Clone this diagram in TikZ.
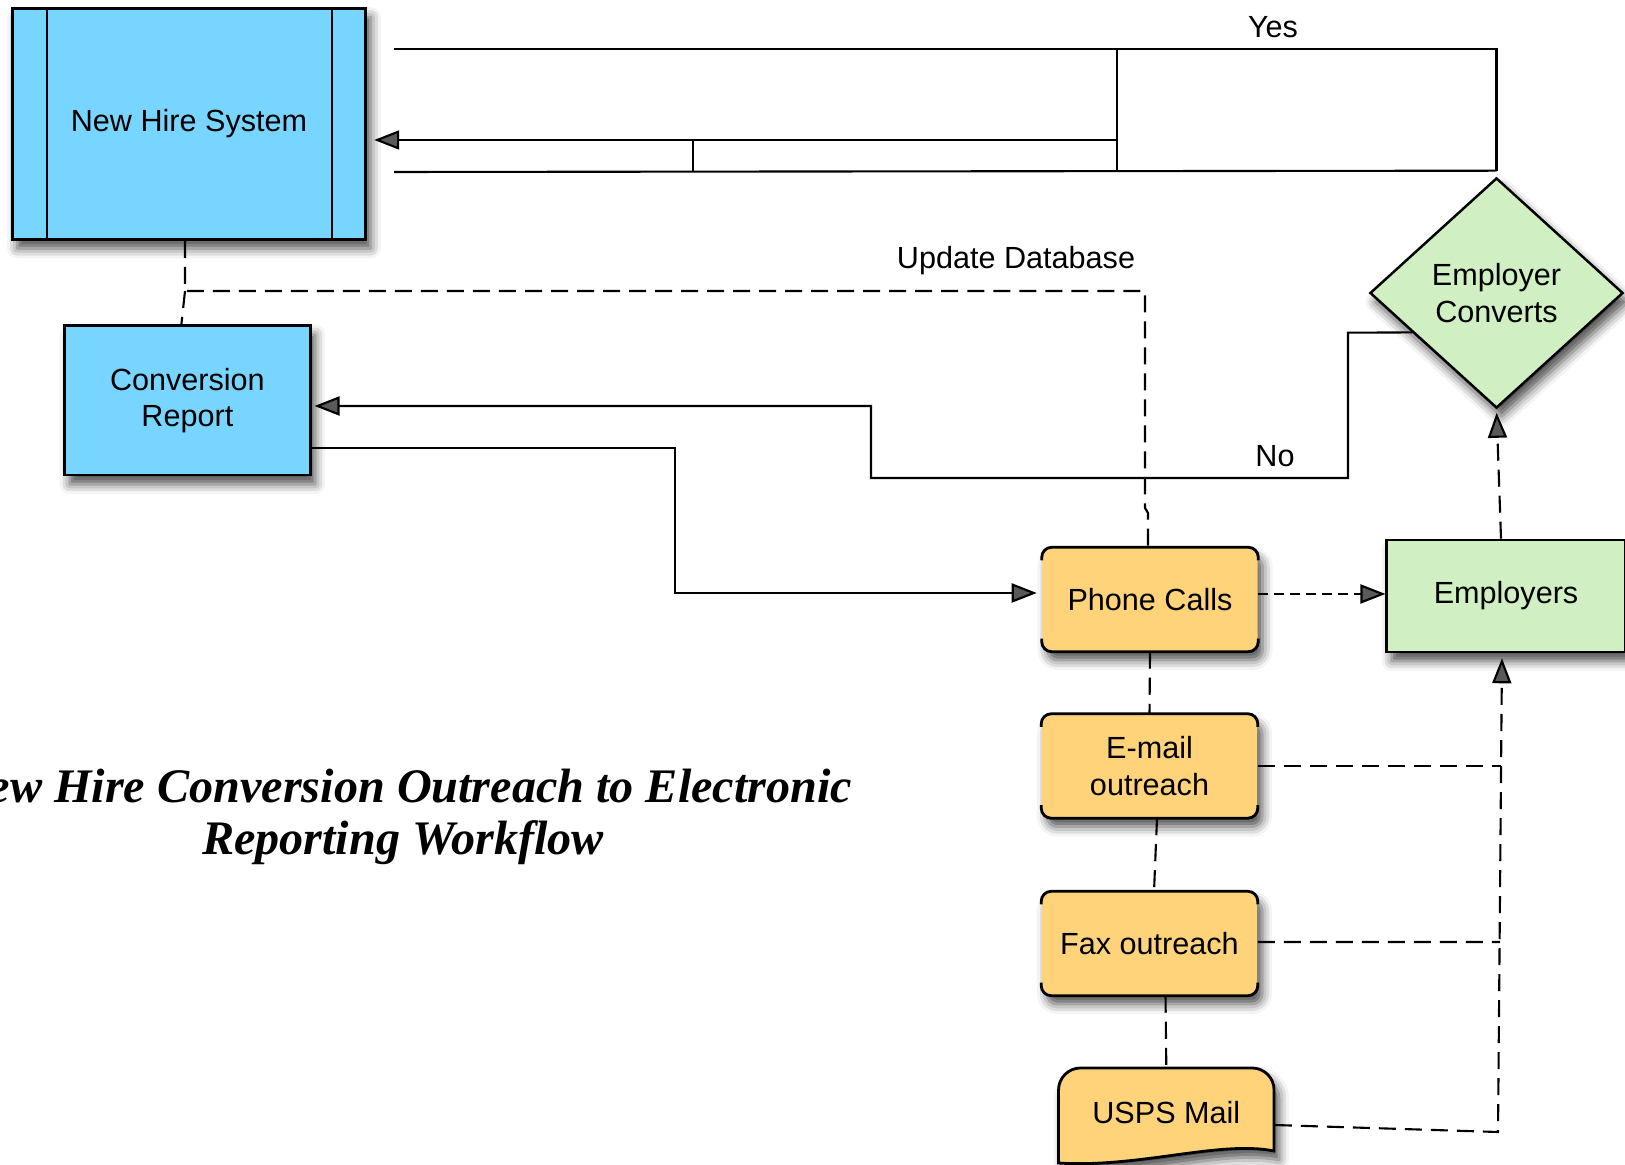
\documentclass[tikz,border=0pt]{standalone}
\usepackage{fontspec}
\setmainfont{Liberation Sans}
\newfontfamily\titlefont{Liberation Serif}
\usetikzlibrary{shapes.geometric,arrows.meta,shadows.blur}

\definecolor{hireblue}{RGB}{119,213,255}
\definecolor{outreach}{RGB}{254,211,122}
\definecolor{empgreen}{RGB}{208,240,196}

\tikzset{
  lbl/.style={font=\fontsize{8.7}{10.4}\selectfont, align=center, inner sep=0pt},
  softshadow/.style={blur shadow={shadow xshift=0.05cm, shadow yshift=-0.09cm,
      shadow blur radius=0.1cm, shadow opacity=70}},
  sysbox/.style={lbl, draw=black, line width=0.8pt, fill=hireblue, softshadow},
  outbox/.style={lbl, fill=outreach, rounded corners=0.1cm, softshadow,
      minimum width=2.15cm, minimum height=1.03cm},
  capline/.style={line width=0.8pt, rounded corners=0.1cm},
  greenbox/.style={lbl, draw=black, line width=0.7pt, fill=empgreen, softshadow},
  conn/.style={line width=0.6pt},
  tip/.style={-{Triangle[length=0.25cm,width=0.19cm]}},
  dashln/.style={conn, dash pattern=on 0.17cm off 0.09cm},
  shortdash/.style={conn, dash pattern=on 0.1cm off 0.06cm},
}

% outline of the outreach boxes: only the top and bottom edges with their corners
\newcommand\roundcaps[1]{%
  \draw[capline] ([yshift=-0.13cm]#1.north west) |- (#1.north east) -- ([yshift=-0.13cm]#1.north east);
  \draw[capline] ([yshift=0.13cm]#1.south west) |- (#1.south east) -- ([yshift=0.13cm]#1.south east);}

\begin{document}
\begin{tikzpicture}[x=0.01cm, y=-0.01cm]
\useasboundingbox (0,0) rectangle (1625,1165);
\clip (0,0) rectangle (1625,1165);

% systems
\node[sysbox, minimum width=3.534cm, minimum height=2.31cm] (nhs) at (189,123.8) {New Hire System};
\draw[line width=0.5pt] ([xshift=0.36cm]nhs.north west) -- ([xshift=0.36cm]nhs.south west);
\draw[line width=0.5pt] ([xshift=-0.35cm]nhs.north east) -- ([xshift=-0.35cm]nhs.south east);
\node[sysbox, minimum width=2.453cm, minimum height=1.493cm] (cr) at (187.4,400.4) {Conversion\\Report};

% outreach channels
\node[outbox] (pc) at (1150,599.5) {Phone Calls};
\roundcaps{pc}
\node[outbox] (em) at (1149.5,766) {E-mail\\outreach};
\roundcaps{em}
\node[outbox] (fax) at (1149.5,943.5) {Fax outreach};
\roundcaps{fax}

% mail: a document shape with a wavy lower edge
\coordinate (uspsc) at (1166.3,1113);
\draw[line width=0.8pt, fill=outreach, softshadow]
  ([shift={(-1.077cm,-0.50cm)}]uspsc) -- ([shift={(-1.077cm,0.23cm)}]uspsc)
  arc[start angle=180, end angle=90, radius=0.22cm]
  -- ([shift={(0.857cm,0.45cm)}]uspsc)
  arc[start angle=90, end angle=0, radius=0.22cm]
  -- ([shift={(1.077cm,-0.38cm)}]uspsc)
  .. controls ([shift={(0.537cm,-0.27cm)}]uspsc)
  and ([shift={(-0.263cm,-0.55cm)}]uspsc)
  .. ([shift={(-1.077cm,-0.50cm)}]uspsc) -- cycle;
\node[lbl, minimum width=2.154cm, minimum height=0.9cm] (usps) at (uspsc) {USPS Mail};

% employers and decision
\node[greenbox, minimum width=2.385cm, minimum height=1.12cm] (emp) at (1506,596) {Employers};
\node[greenbox, diamond, aspect=1.1, minimum width=2.53cm, minimum height=2.3cm] (conv) at (1496.5,293) {Employer\\Converts};

% labels
\node[lbl] (yes) at (1273,27) {Yes};
\node[lbl] (no) at (1275,456) {No};
\node[lbl] (upd) at (1016,261) {Update Database};

% "Yes" route back to the New Hire System
\coordinate (y1) at (1496.5,49);
\coordinate (y2) at (394,49);
\coordinate (y3) at (394,172);
\coordinate (y4) at (1117,49);
\coordinate (y5) at (1117,172);
\coordinate (y6) at (693,140);
\coordinate (y7) at (693,172);
\coordinate (y8) at (1117,140);
\draw[conn] ([yshift=0.06cm]conv.north) -- (y1) -- (y2);
\draw[conn] ([yshift=0.06cm]conv.north) -- (y3);
\draw[conn] (y4) -- (y5);
\draw[conn] (y6) -- (y7);
\draw[conn, tip, shorten >=0.07cm] (y8) -- (nhs.east |- y8);

% database updates
\coordinate (u1) at (185,291);
\coordinate (u2) at (1145,291);
\coordinate (u3) at (1145,508);
\coordinate (u4) at (1148,513);
\draw[dashln] ([xshift=-0.04cm]nhs.south) -- (u1) -- (u2) -- (u3) -- (u4) -- (pc.north -| u4);
\draw[dashln] (u1) -- ([xshift=-0.06cm]cr.north);

% report to phone calls
\coordinate (r1) at (675,448);
\coordinate (r2) at (675,593);
\draw[conn, tip, shorten >=0.05cm] (cr.east |- r1) -- (r1) -- (r2) -- (pc.west |- r2);

% "No" route back to the report
\coordinate (n1) at (1348,332.7);
\coordinate (n2) at (1348,478);
\coordinate (n3) at (871,478);
\coordinate (n4) at (871,406);
\draw[conn, tip, shorten >=0.03cm] (conv.205.6) -- (n1) -- (n2) -- (n3) -- (n4) -- (cr.east |- n4);

% employers to decision
\draw[dashln, tip, shorten >=0.035cm] ([xshift=-0.05cm]emp.north) -- (conv.south);

% outreach chain
\draw[dashln] (pc.south) -- (em.north);
\draw[dashln] ([xshift=0.075cm]em.south) -- ([xshift=0.045cm]fax.north);
\draw[dashln] ([xshift=0.16cm]fax.south) -- (usps.north);

% outreach reaching employers
\draw[shortdash, tip] ([yshift=0.055cm]pc.east) -- ([yshift=0.055cm]pc.east -| emp.west);
\coordinate (vb) at (1498,1132);
\coordinate (ex) at (1501,766);
\coordinate (fx) at (1500,942);
\draw[dashln, tip, shorten >=0.05cm] ([yshift=-0.12cm]usps.east) -- (vb) -- ([xshift=-0.04cm]emp.south);
\draw[dashln] (em.east) -- (ex);
\draw[dashln] ([yshift=0.015cm]fax.east) -- (fx);

% title
\node[font=\titlefont\bfseries\itshape\fontsize{13.7}{14.6}\selectfont, align=center, inner sep=0pt]
  (title) at (403,817) {New Hire Conversion Outreach to Electronic\\Reporting Workflow};
\end{tikzpicture}
\end{document}
